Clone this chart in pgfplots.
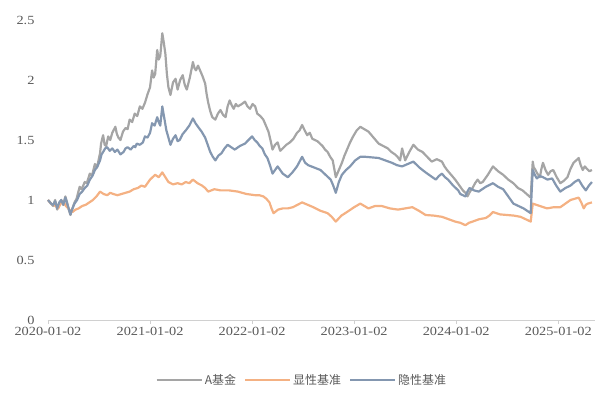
\documentclass[border=0pt]{standalone}
\usepackage{pgfplots}
\pgfplotsset{compat=1.18}
\usepackage{pgfplotstable}
\usepackage{fontspec}
\setmainfont{Liberation Serif}[FakeStretch=1.15]
\newfontfamily\cjk{Noto Sans CJK SC}
\definecolor{cgray}{HTML}{A5A5A5}
\definecolor{corange}{HTML}{F4B183}
\definecolor{cblue}{HTML}{8497B0}
\definecolor{ctext}{HTML}{595959}
\definecolor{caxis}{HTML}{D0D0D0}

\pgfplotstableread{
x y
0.00 1.00
0.03 0.97
0.05 0.95
0.07 1.00
0.09 0.92
0.11 0.97
0.13 1.00
0.15 0.96
0.17 1.03
0.19 0.97
0.20 0.93
0.22 0.875
0.24 0.93
0.26 0.98
0.28 1.01
0.31 1.11
0.33 1.09
0.36 1.15
0.38 1.14
0.41 1.22
0.43 1.20
0.46 1.30
0.48 1.27
0.51 1.39
0.52 1.47
0.54 1.54
0.555 1.46
0.57 1.45
0.59 1.53
0.61 1.50
0.63 1.56
0.66 1.61
0.675 1.55
0.69 1.52
0.71 1.50
0.735 1.57
0.76 1.60
0.78 1.59
0.80 1.67
0.825 1.65
0.85 1.72
0.875 1.70
0.90 1.78
0.925 1.76
0.95 1.81
0.975 1.88
1.00 1.94
1.02 2.08
1.035 2.02
1.05 2.05
1.07 2.25
1.085 2.17
1.10 2.20
1.12 2.39
1.135 2.31
1.15 2.22
1.165 2.05
1.18 1.94
1.20 1.875
1.225 1.98
1.25 2.01
1.27 1.92
1.295 2.00
1.32 2.04
1.34 1.96
1.36 1.92
1.39 2.02
1.42 2.15
1.435 2.10
1.45 2.08
1.47 2.12
1.49 2.08
1.515 2.03
1.54 1.97
1.555 1.88
1.57 1.81
1.59 1.74
1.61 1.69
1.64 1.67
1.665 1.72
1.69 1.75
1.715 1.71
1.74 1.69
1.76 1.78
1.78 1.83
1.80 1.79
1.82 1.76
1.84 1.80
1.86 1.78
1.90 1.80
1.93 1.82
1.955 1.78
1.98 1.76
2.005 1.80
2.03 1.78
2.05 1.72
2.08 1.70
2.11 1.67
2.135 1.62
2.16 1.57
2.18 1.50
2.20 1.42
2.225 1.46
2.25 1.48
2.275 1.41
2.30 1.43
2.335 1.46
2.37 1.48
2.405 1.51
2.44 1.56
2.465 1.58
2.49 1.625
2.515 1.58
2.54 1.54
2.565 1.56
2.59 1.51
2.64 1.49
2.665 1.47
2.69 1.45
2.715 1.42
2.74 1.40
2.765 1.36
2.79 1.33
2.805 1.26
2.82 1.19
2.85 1.25
2.88 1.31
2.905 1.37
2.93 1.42
2.96 1.48
2.99 1.53
3.025 1.58
3.06 1.61
3.10 1.59
3.14 1.57
3.19 1.52
3.24 1.47
3.285 1.45
3.33 1.43
3.365 1.40
3.40 1.38
3.425 1.36
3.45 1.33
3.47 1.43
3.485 1.38
3.50 1.33
3.54 1.40
3.58 1.46
3.625 1.42
3.67 1.40
3.715 1.36
3.76 1.32
3.81 1.34
3.86 1.32
3.885 1.28
3.91 1.25
3.95 1.21
3.99 1.17
4.015 1.14
4.04 1.11
4.065 1.08
4.09 1.06
4.11 1.03
4.135 1.07
4.16 1.10
4.185 1.14
4.21 1.17
4.235 1.14
4.26 1.15
4.31 1.21
4.36 1.28
4.41 1.24
4.46 1.21
4.51 1.17
4.56 1.14
4.605 1.10
4.65 1.08
4.69 1.05
4.73 1.02
4.74 1.18
4.75 1.32
4.76 1.27
4.77 1.26
4.795 1.22
4.82 1.19
4.835 1.26
4.85 1.31
4.875 1.25
4.90 1.21
4.925 1.24
4.95 1.25
4.985 1.19
5.02 1.14
5.055 1.16
5.09 1.19
5.12 1.26
5.15 1.31
5.175 1.33
5.20 1.35
5.22 1.29
5.24 1.25
5.26 1.28
5.28 1.26
5.305 1.24
5.33 1.25
}\fundA

\pgfplotstableread{
x y
0.00 1.00
0.03 0.97
0.05 0.96
0.07 0.99
0.09 0.93
0.11 0.98
0.13 1.00
0.15 0.96
0.17 1.02
0.195 0.95
0.22 0.88
0.24 0.93
0.26 0.97
0.285 1.00
0.31 1.05
0.335 1.07
0.36 1.10
0.385 1.12
0.41 1.17
0.435 1.20
0.46 1.25
0.485 1.28
0.51 1.33
0.525 1.38
0.54 1.40
0.56 1.43
0.58 1.44
0.605 1.41
0.63 1.43
0.655 1.40
0.68 1.42
0.71 1.38
0.74 1.40
0.76 1.43
0.78 1.44
0.81 1.42
0.84 1.45
0.855 1.44
0.87 1.47
0.90 1.46
0.93 1.48
0.95 1.53
0.975 1.52
1.00 1.56
1.02 1.64
1.045 1.62
1.07 1.69
1.085 1.65
1.10 1.62
1.12 1.78
1.14 1.68
1.16 1.58
1.18 1.52
1.20 1.46
1.225 1.51
1.25 1.54
1.27 1.49
1.29 1.50
1.32 1.55
1.35 1.58
1.385 1.62
1.42 1.68
1.445 1.64
1.47 1.61
1.505 1.57
1.54 1.52
1.565 1.46
1.59 1.40
1.615 1.36
1.64 1.33
1.67 1.37
1.70 1.39
1.73 1.43
1.76 1.46
1.795 1.44
1.83 1.42
1.88 1.45
1.93 1.47
1.965 1.50
2.00 1.53
2.025 1.50
2.05 1.48
2.075 1.45
2.10 1.43
2.125 1.38
2.15 1.35
2.175 1.29
2.20 1.22
2.225 1.25
2.25 1.28
2.30 1.22
2.35 1.19
2.395 1.23
2.44 1.28
2.465 1.32
2.49 1.36
2.52 1.31
2.55 1.29
2.61 1.27
2.67 1.25
2.72 1.21
2.77 1.17
2.795 1.12
2.82 1.06
2.85 1.15
2.88 1.21
2.92 1.25
2.96 1.28
3.01 1.33
3.06 1.36
3.11 1.36
3.175 1.355
3.24 1.35
3.305 1.33
3.37 1.31
3.42 1.29
3.47 1.28
3.525 1.30
3.58 1.32
3.64 1.27
3.70 1.23
3.75 1.20
3.80 1.17
3.83 1.20
3.86 1.22
3.89 1.19
3.92 1.17
3.97 1.12
4.02 1.08
4.04 1.05
4.09 1.03
4.11 1.07
4.13 1.10
4.175 1.08
4.22 1.07
4.29 1.11
4.36 1.14
4.41 1.11
4.46 1.09
4.51 1.03
4.56 0.97
4.61 0.95
4.66 0.93
4.695 0.91
4.73 0.89
4.74 1.08
4.75 1.25
4.77 1.21
4.79 1.18
4.82 1.20
4.85 1.19
4.895 1.17
4.94 1.18
4.98 1.12
5.02 1.07
5.07 1.10
5.12 1.12
5.16 1.15
5.20 1.17
5.235 1.12
5.27 1.08
5.30 1.12
5.33 1.15
}\implicitB

\pgfplotstableread{
x y
0.00 1.00
0.03 0.97
0.05 0.96
0.075 0.95
0.10 0.93
0.125 0.97
0.15 0.99
0.175 0.95
0.20 0.93
0.22 0.91
0.24 0.90
0.27 0.92
0.30 0.93
0.335 0.95
0.37 0.96
0.405 0.98
0.44 1.00
0.475 1.03
0.51 1.07
0.545 1.05
0.58 1.04
0.61 1.06
0.64 1.05
0.68 1.04
0.72 1.05
0.76 1.06
0.80 1.07
0.84 1.09
0.88 1.10
0.915 1.12
0.95 1.11
1.00 1.17
1.05 1.21
1.085 1.19
1.12 1.23
1.15 1.19
1.18 1.15
1.225 1.13
1.27 1.14
1.31 1.13
1.35 1.15
1.385 1.14
1.42 1.17
1.465 1.14
1.51 1.12
1.54 1.10
1.57 1.07
1.63 1.09
1.69 1.08
1.775 1.08
1.86 1.07
1.945 1.05
2.03 1.04
2.07 1.04
2.11 1.03
2.14 1.01
2.17 0.98
2.19 0.93
2.21 0.89
2.255 0.92
2.30 0.93
2.35 0.93
2.40 0.94
2.445 0.96
2.49 0.98
2.545 0.96
2.60 0.94
2.67 0.91
2.74 0.89
2.78 0.86
2.82 0.82
2.875 0.87
2.93 0.90
3.00 0.94
3.06 0.97
3.10 0.95
3.14 0.93
3.205 0.95
3.27 0.95
3.35 0.93
3.43 0.92
3.50 0.93
3.57 0.94
3.635 0.91
3.70 0.875
3.78 0.87
3.86 0.86
3.925 0.84
3.99 0.82
4.04 0.81
4.09 0.79
4.125 0.81
4.16 0.82
4.225 0.84
4.29 0.85
4.325 0.87
4.36 0.90
4.43 0.88
4.50 0.875
4.565 0.87
4.63 0.86
4.68 0.84
4.73 0.82
4.75 0.97
4.82 0.95
4.89 0.93
4.955 0.94
5.02 0.94
5.07 0.97
5.12 1.00
5.16 1.01
5.20 1.02
5.225 0.98
5.25 0.93
5.27 0.96
5.29 0.97
5.33 0.98
}\explicitB

\begin{document}
\begin{tikzpicture}
\useasboundingbox (-48bp,-79bp) rectangle (555bp,320bp);
\begin{axis}[
  at={(0,0)}, anchor=south west,
  scale only axis,
  width=547bp, height=300bp,
  xmin=0, xmax=5.36,
  ymin=0, ymax=2.5,
  axis y line*=left,
  axis x line*=bottom,
  y axis line style={draw=none},
  ytick style={draw=none},
  x axis line style={caxis, line width=0.8pt, -},
  xtick={0,1,2,3,4,5},
  xticklabels={2020-01-02,2021-01-02,2022-01-02,2023-01-02,2024-01-02,2025-01-02},
  xtick style={caxis, line width=0.8pt},
  tick align=outside,
  major tick length=4bp,
  ytick={0,0.5,1,1.5,2,2.5},
  yticklabels={0,0.5,1,1.5,2,2.5},
  every tick label/.append style={font=\fontsize{12.5}{14}\selectfont, text=ctext},
  yticklabel style={xshift=-6bp},
  legend style={at={(0.464,-0.2)}, anchor=center, draw=none, fill=none,
    legend columns=3, font=\cjk\fontsize{12}{14}\selectfont, text=ctext,
    /tikz/every even column/.append style={column sep=6bp}},
  legend image code/.code={\draw[#1] (0bp,0bp) -- (45bp,0bp);},
  clip=false,
]
\addplot[cgray, line width=2.2pt, line join=round] table[x=x,y=y] {\fundA};
\addlegendentry{A基金}
\addplot[corange, line width=2.2pt, line join=round] table[x=x,y=y] {\explicitB};
\addlegendentry{显性基准}
\addplot[cblue, line width=2.2pt, line join=round] table[x=x,y=y] {\implicitB};
\addlegendentry{隐性基准}
\end{axis}
\end{tikzpicture}
\end{document}
